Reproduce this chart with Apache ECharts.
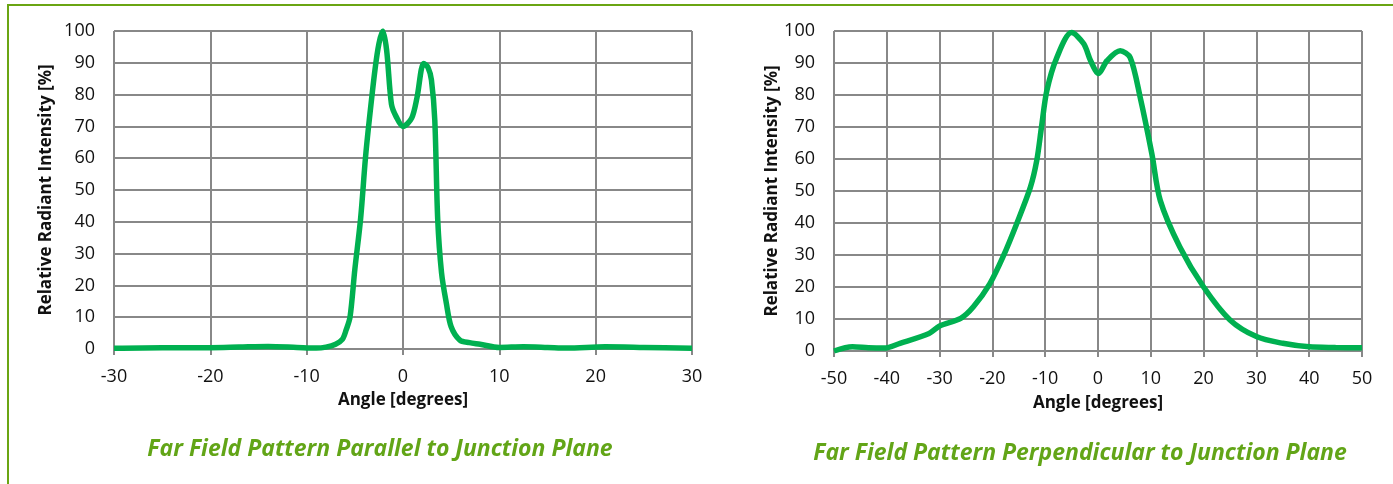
<!DOCTYPE html>
<html>
<head>
<meta charset="utf-8">
<script src="https://cdn.jsdelivr.net/npm/echarts@6/dist/echarts.min.js"></script>
<style>
  html, body { margin: 0; padding: 0; background: #fff; }
  #frame {
    position: absolute; left: 7px; top: 4px; width: 1400px; height: 490px;
    border-top: 2.5px solid #6aa513; border-left: 2.5px solid #6aa513;
    box-sizing: border-box;
  }
  #main { position: absolute; left: 0; top: 0; width: 1393px; height: 484px; }
</style>
</head>
<body>
<div id="frame"></div>
<div id="main"></div>
<script>
// parallel to junction plane
var angleA = [-30, -25, -20, -17, -14, -11, -9, -8, -7, -6.3, -5.9, -5.5, -5, -4.4, -3.9, -3.5, -2.9, -2.5, -2.1, -1.7, -1.2, -0.7, 0, 0.9, 1.45, 2.15, 2.6, 2.95, 3.3, 3.6, 4.0, 4.5, 5.0, 5.9, 6.9, 8, 10, 12.5, 15, 17, 21, 25, 30];
var intensityA = [0.2, 0.4, 0.4, 0.6, 0.8, 0.5, 0.3, 0.6, 1.5, 3, 6, 10, 25, 41, 60, 72, 88, 96, 100, 94, 77, 73, 70, 72.6, 79, 89.8, 88.5, 84.6, 72, 41, 24, 14.4, 7, 2.8, 2, 1.5, 0.5, 0.7, 0.5, 0.3, 0.7, 0.5, 0.2];

// perpendicular to junction plane
var angleB = [-50, -46.5, -43.5, -40.5, -37.5, -32, -30, -26, -23.6, -20.5, -18, -15.4, -12.8, -11.6, -10.7, -9.7, -7.8, -5, -2.7, -1.4, 0.1, 1.7, 4.2, 6.1, 8, 10.2, 11.8, 15.5, 20, 25, 30, 35, 40, 45, 50];
var intensityB = [0, 1.3, 1, 0.9, 2.4, 5.5, 7.8, 10.2, 13.8, 21, 29.4, 39.8, 51.2, 59.5, 70, 81.3, 91.7, 99.5, 96, 90.7, 86.7, 90.7, 93.8, 91.7, 79.2, 61.6, 47, 32.5, 20, 9.7, 4.5, 2.4, 1.3, 1.1, 1.0];

var titles = ["Far Field Pattern Parallel to Junction Plane", "Far Field Pattern Perpendicular to Junction Plane"];
var xName = "Angle [degrees]";
var yName = "Relative Radiant Intensity [%]";

function pairs(xs, ys) {
  var out = [];
  for (var i = 0; i < xs.length; i++) out.push([xs[i], ys[i]]);
  return out;
}

var font = "'Open Sans', 'Liberation Sans', sans-serif";
var gridColor = "#888888";

function xAxis(idx, min, max, gap) {
  return {
    gridIndex: idx, type: "value", min: min, max: max, interval: 10,
    name: xName, nameLocation: "middle", nameGap: gap,
    nameTextStyle: { fontFamily: font, fontWeight: "bold", fontSize: 17, color: "#111" },
    axisLine: { lineStyle: { color: gridColor, width: 2 } },
    axisTick: { show: true, length: 6, lineStyle: { color: gridColor, width: 2 } },
    axisLabel: { fontFamily: font, fontSize: 18, color: "#111", margin: 19 },
    splitLine: { show: true, lineStyle: { color: gridColor, width: 2 } }
  };
}
function yAxis(idx, gap) {
  return {
    gridIndex: idx, type: "value", min: 0, max: 100, interval: 10,
    name: yName, nameLocation: "middle", nameGap: gap, nameRotate: 90,
    nameTextStyle: { fontFamily: font, fontWeight: "bold", fontSize: 17, color: "#111" },
    axisLine: { show: true, lineStyle: { color: gridColor, width: 2 } },
    axisTick: { show: true, length: 6, lineStyle: { color: gridColor, width: 2 } },
    axisLabel: { fontFamily: font, fontSize: 18, color: "#111", margin: 19 },
    splitLine: { show: true, lineStyle: { color: gridColor, width: 2 } }
  };
}

var titleStyle = { fontFamily: font, fontStyle: "italic", fontWeight: "bold", fontSize: 23, color: "#62a517" };

var chart = echarts.init(document.getElementById("main"));
chart.setOption({
  animation: false,
  title: [
    { text: titles[0], left: 375, top: 433, textAlign: "center", textStyle: titleStyle },
    { text: titles[1], left: 1075, top: 437, textAlign: "center", textStyle: titleStyle }
  ],
  grid: [
    { left: 114, right: 701, top: 31, bottom: 135 },
    { left: 834, right: 31, top: 31, bottom: 133 }
  ],
  xAxis: [xAxis(0, -30, 30, 43), xAxis(1, -50, 50, 44)],
  yAxis: [yAxis(0, 59), yAxis(1, 52)],
  series: [
    { type: "line", xAxisIndex: 0, yAxisIndex: 0, data: pairs(angleA, intensityA),
      smooth: 0.3, showSymbol: false, lineStyle: { color: "#00b050", width: 5.5 } },
    { type: "line", xAxisIndex: 1, yAxisIndex: 1, data: pairs(angleB, intensityB),
      smooth: 0.3, showSymbol: false, lineStyle: { color: "#00b050", width: 5.5 } }
  ]
});
</script>
</body>
</html>
